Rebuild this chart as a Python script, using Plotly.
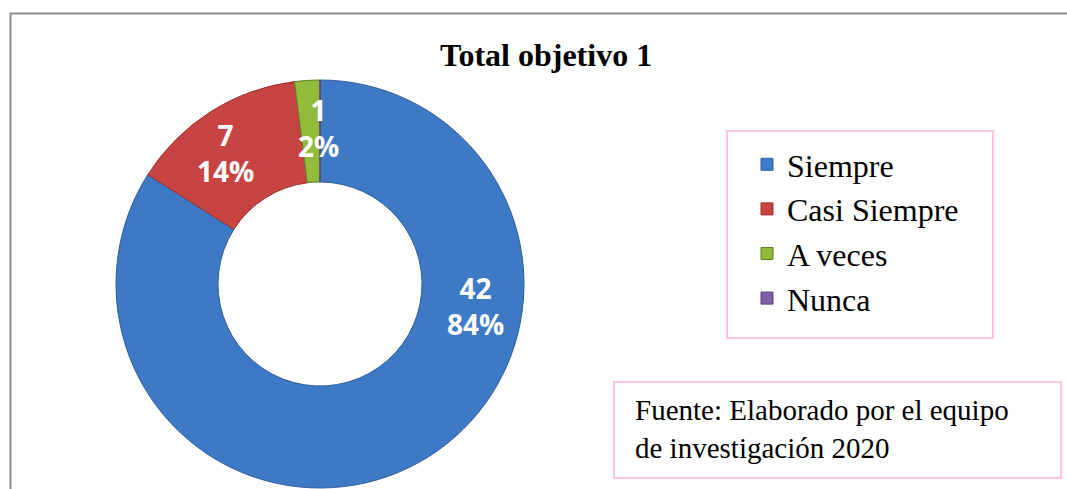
import plotly.graph_objects as go

categories = ["Siempre", "Casi Siempre", "A veces", "Nunca"]
values = [42, 7, 1, 0]
title_text = "Total objetivo 1"
source_text = "Fuente: Elaborado por el equipo<br>de investigación 2020"

colors = ["#3E79C6", "#C84443", "#92BB3C", "#7F5FA8"]
edge_colors = ["#2F5F9E", "#9A2E2D", "#5E7F22", "#5A3F80"]

W, H = 1067, 489

def px(x):
    return x / W

def py(y):
    return (H - y) / H

cx, cy, R = 320, 284, 204

fig = go.Figure()
fig.add_trace(go.Pie(
    labels=categories,
    values=values,
    hole=0.5,
    sort=False,
    direction="clockwise",
    rotation=0,
    textinfo="none",
    marker=dict(colors=colors, line=dict(color=edge_colors, width=1)),
    domain=dict(x=[px(cx - R), px(cx + R)], y=[py(cy + R), py(cy - R)]),
    showlegend=True,
))

total = sum(values)
label_pos = [(475, 306), (225, 153), (318, 128)]
annotations = []
for (lx, ly), v in zip(label_pos, values):
    pct = round(100 * v / total)
    annotations.append(dict(
        x=px(lx), y=py(ly), xref="paper", yref="paper",
        text=f"{v}<br>{pct}%", showarrow=False,
        font=dict(family="Open Sans", size=28, color="white", weight="bold"),
        xanchor="center", yanchor="middle", align="center",
    ))

annotations.append(dict(
    x=px(546), y=py(55), xref="paper", yref="paper",
    text=f"<b>{title_text}</b>", showarrow=False,
    font=dict(family="Liberation Serif", size=32, color="black"),
    xanchor="center", yanchor="middle",
))
annotations.append(dict(
    x=px(633), y=py(429), xref="paper", yref="paper",
    text=source_text, showarrow=False, align="left",
    font=dict(family="Liberation Serif", size=29, color="black"),
    xanchor="left", yanchor="middle",
))

pink = "#FFC4E2"
shapes = [
    dict(type="line", xref="paper", yref="paper", x0=px(10), x1=px(1067), y0=py(13.5), y1=py(13.5),
         line=dict(color="#8C8C8C", width=2)),
    dict(type="line", xref="paper", yref="paper", x0=px(10.5), x1=px(10.5), y0=py(13), y1=py(489),
         line=dict(color="#8C8C8C", width=2)),
    dict(type="rect", xref="paper", yref="paper", x0=px(727), x1=px(993), y0=py(338), y1=py(131),
         line=dict(color=pink, width=2)),
    dict(type="rect", xref="paper", yref="paper", x0=px(614), x1=px(1061), y0=py(478), y1=py(382),
         line=dict(color=pink, width=2)),
]

fig.update_layout(
    width=W, height=H,
    margin=dict(l=0, r=0, t=0, b=0),
    paper_bgcolor="white",
    plot_bgcolor="white",
    annotations=annotations,
    shapes=shapes,
    legend=dict(
        x=px(747), y=py(137), xanchor="left", yanchor="top",
        font=dict(family="Liberation Serif", size=32, color="black"),
        bgcolor="rgba(0,0,0,0)", borderwidth=0,
        itemwidth=30,
    ),
)

fig.write_html("out.html", config={"displayModeBar": False},
               post_script="document.body.style.margin='0';")
